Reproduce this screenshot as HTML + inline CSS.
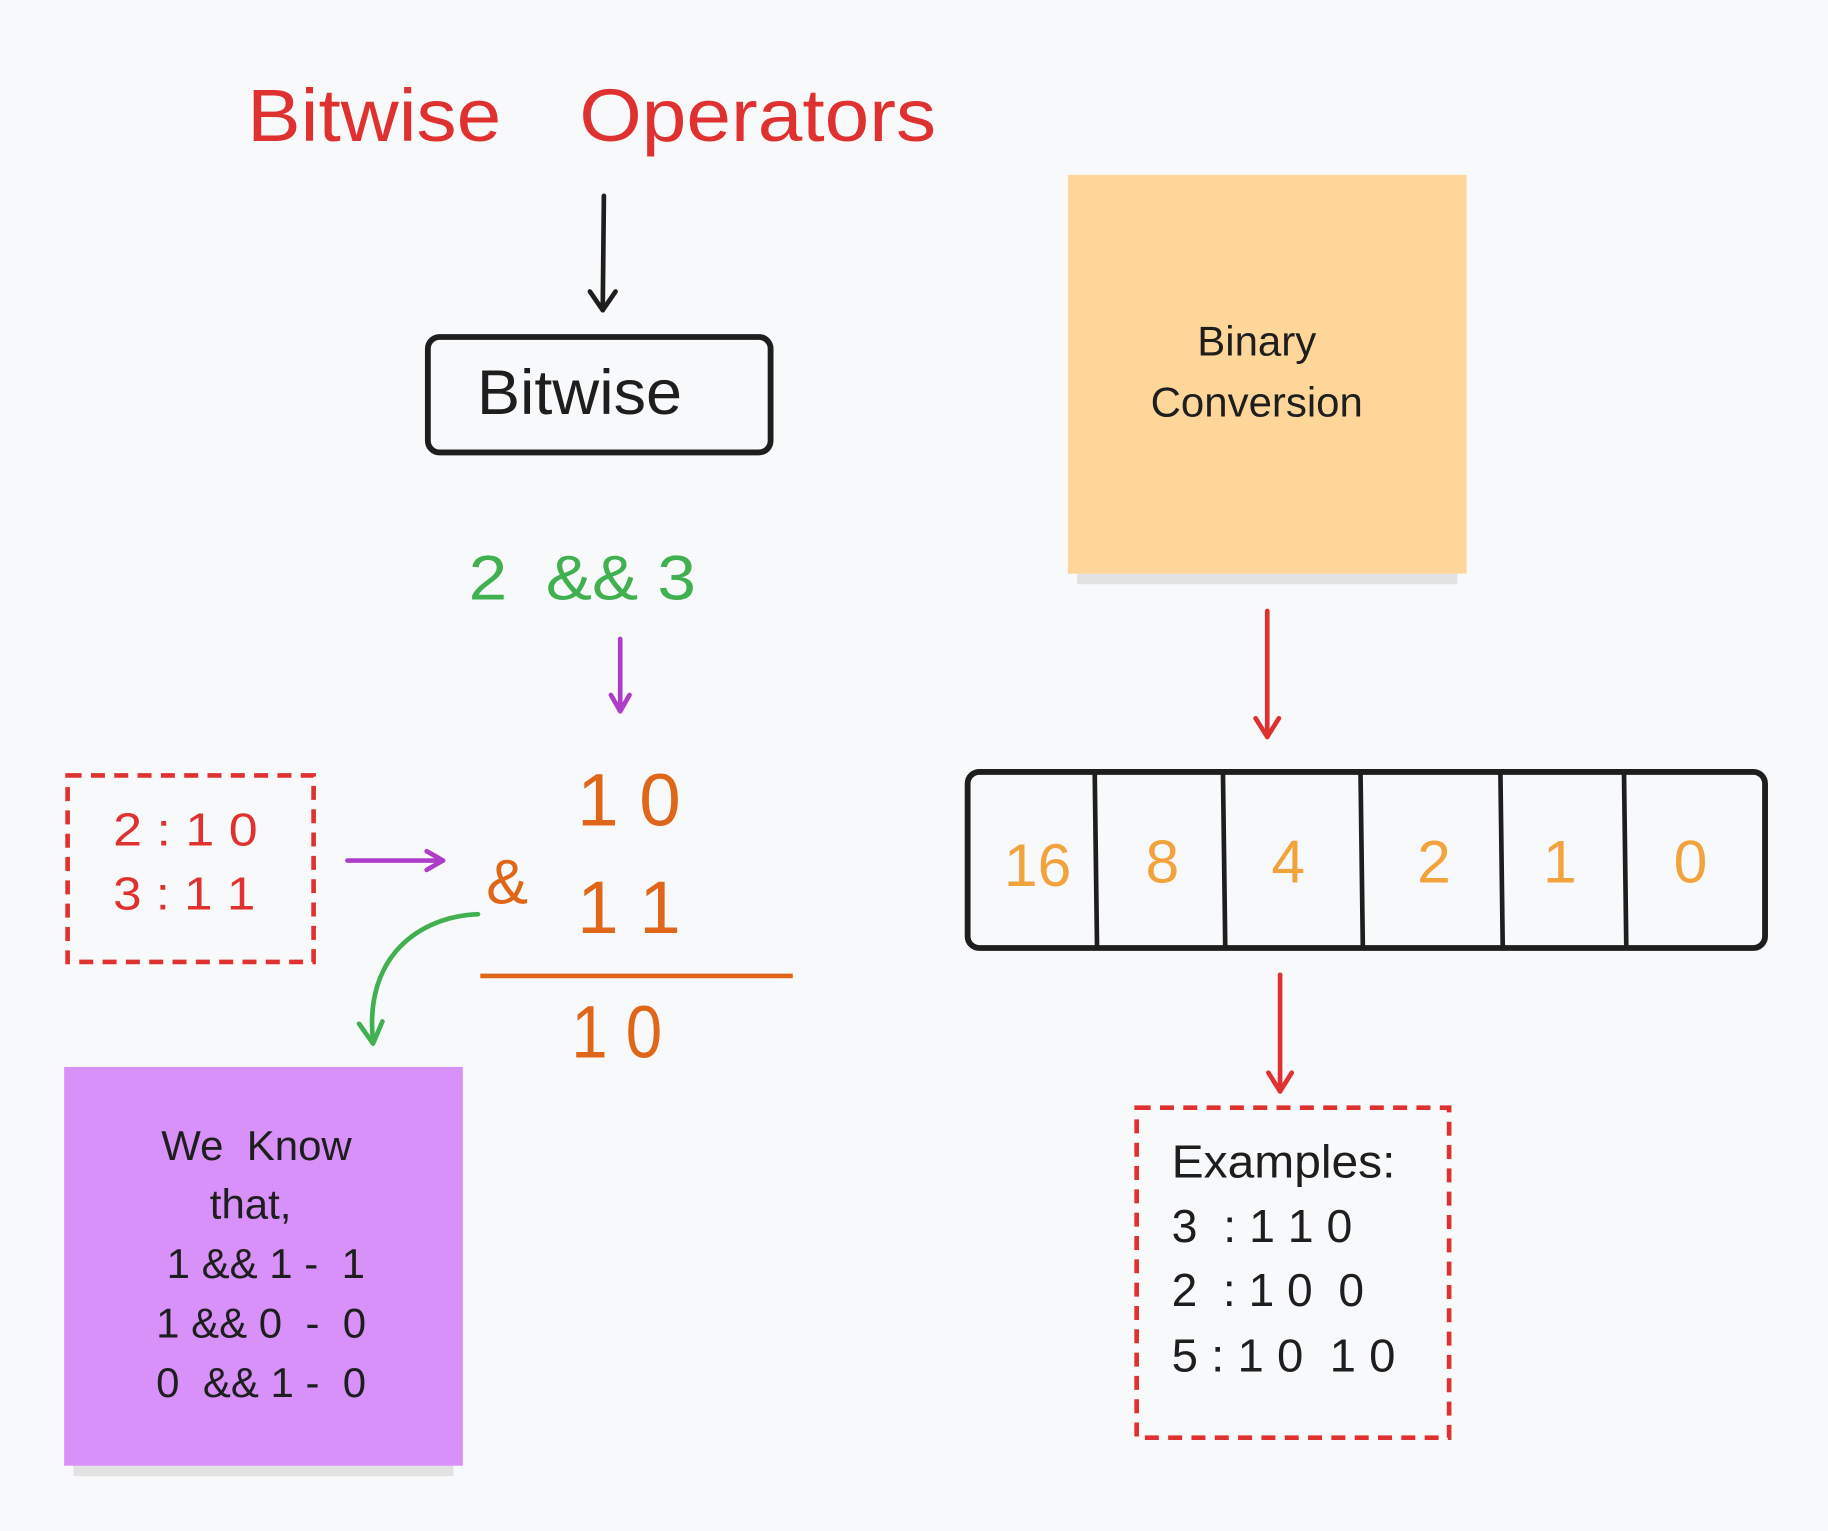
<!DOCTYPE html>
<html><head><meta charset="utf-8"><style>
html,body{margin:0;padding:0;background:#f8f9fb;}
svg{display:block;}
text{font-family:"Liberation Sans",sans-serif;}
</style></head><body>
<svg width="1828" height="1531" viewBox="0 0 1568 1313" preserveAspectRatio="none" xmlns="http://www.w3.org/2000/svg">
<rect width="1568" height="1313" fill="#f8f9fb"/>
<text x="212" y="121" font-size="64" fill="#e03131" textLength="218" lengthAdjust="spacingAndGlyphs">Bitwise</text>
<text x="497" y="121" font-size="64" fill="#e03131" textLength="306" lengthAdjust="spacingAndGlyphs">Operators</text>
<path d="M518 168 L517 266" stroke="#1e1e1e" stroke-width="4" fill="none" stroke-linecap="round"/>
<path d="M506 250 L517 266 L528 250" stroke="#1e1e1e" stroke-width="4" fill="none" stroke-linecap="round" stroke-linejoin="round"/>
<rect x="367" y="289" width="294" height="99" rx="10" fill="none" stroke="#1e1e1e" stroke-width="5"/>
<text x="409" y="355" font-size="54" fill="#1e1e1e" textLength="176" lengthAdjust="spacingAndGlyphs">Bitwise</text>
<text x="402" y="514" font-size="54" fill="#40b050" xml:space="preserve" textLength="195" lengthAdjust="spacingAndGlyphs">2  &amp;&amp; 3</text>
<path d="M532 548 L532 610" stroke="#ae3ec9" stroke-width="4" fill="none" stroke-linecap="round"/>
<path d="M524 596 L532 610 L540 596" stroke="#ae3ec9" stroke-width="4" fill="none" stroke-linecap="round" stroke-linejoin="round"/>
<text x="495" y="708" font-size="64" fill="#e0661a" xml:space="preserve">1 0</text>
<text x="495" y="800" font-size="64" fill="#e0661a" xml:space="preserve">1 1</text>
<text x="417" y="775" font-size="54" fill="#e0661a">&amp;</text>
<path d="M412 837 L680 837" stroke="#e0661a" stroke-width="4"/>
<text x="490" y="907" font-size="64" fill="#e0661a" xml:space="preserve" textLength="78" lengthAdjust="spacingAndGlyphs">1 0</text>
<rect x="58" y="665" width="211" height="160" fill="none" stroke="#e03131" stroke-width="4" stroke-dasharray="12 8"/>
<text x="97" y="725" font-size="40" fill="#e03131" xml:space="preserve" textLength="124" lengthAdjust="spacingAndGlyphs">2 : 1 0</text>
<text x="97" y="780" font-size="40" fill="#e03131" xml:space="preserve" textLength="122" lengthAdjust="spacingAndGlyphs">3 : 1 1</text>
<path d="M298 738 L380 738" stroke="#ae3ec9" stroke-width="4" fill="none" stroke-linecap="round"/>
<path d="M366 730 L380 738 L366 746" stroke="#ae3ec9" stroke-width="4" fill="none" stroke-linecap="round" stroke-linejoin="round"/>
<path d="M410 784 C360 786 312 820 320 893" stroke="#40b050" stroke-width="4" fill="none" stroke-linecap="round"/>
<path d="M308 878 L320 895 L328 876" stroke="#40b050" stroke-width="4" fill="none" stroke-linecap="round" stroke-linejoin="round"/>
<rect x="63" y="1250" width="326" height="16" fill="#e2e2e2"/>
<rect x="55" y="915" width="342" height="342" fill="#d891f8"/>
<g font-size="36" fill="#1e1e1e" text-anchor="middle">
<text x="220" y="995" xml:space="preserve">We  Know</text>
<text x="215" y="1045">that,</text>
<text x="228" y="1096" xml:space="preserve">1 &amp;&amp; 1 -  1</text>
<text x="224" y="1147" xml:space="preserve">1 &amp;&amp; 0  -  0</text>
<text x="224" y="1198" xml:space="preserve">0  &amp;&amp; 1 -  0</text>
</g>
<rect x="924" y="485" width="326" height="16" fill="#e2e2e2"/>
<rect x="916" y="150" width="342" height="342" fill="#ffd699"/>
<text x="1078" y="305" font-size="36" fill="#1e1e1e" text-anchor="middle">Binary</text>
<text x="1078" y="357" font-size="36" fill="#1e1e1e" text-anchor="middle">Conversion</text>
<path d="M1087 524 L1087 632" stroke="#e03131" stroke-width="4" fill="none" stroke-linecap="round"/>
<path d="M1077 616 L1087 632 L1097 616" stroke="#e03131" stroke-width="4" fill="none" stroke-linecap="round" stroke-linejoin="round"/>
<path d="M1098 836 L1098 936" stroke="#e03131" stroke-width="4" fill="none" stroke-linecap="round"/>
<path d="M1088 920 L1098 936 L1108 920" stroke="#e03131" stroke-width="4" fill="none" stroke-linecap="round" stroke-linejoin="round"/>
<rect x="830" y="662" width="684" height="151" rx="10" fill="none" stroke="#1e1e1e" stroke-width="5"/>
<g stroke="#1e1e1e" stroke-width="4">
<path d="M939 662 L941 813"/><path d="M1049 662 L1051 813"/><path d="M1167 662 L1169 813"/>
<path d="M1287 662 L1289 813"/><path d="M1393 662 L1395 813"/>
</g>
<g font-size="52" fill="#f2a33c" text-anchor="middle">
<text x="890" y="760">16</text><text x="997" y="757">8</text><text x="1105" y="757">4</text>
<text x="1230" y="757">2</text><text x="1338" y="757">1</text><text x="1450" y="757">0</text>
</g>
<rect x="975" y="950" width="268" height="283" fill="none" stroke="#e03131" stroke-width="4" stroke-dasharray="12 8"/>
<g font-size="40" fill="#1e1e1e">
<text x="1005" y="1010" textLength="192" lengthAdjust="spacingAndGlyphs">Examples:</text>
<text x="1005" y="1065" xml:space="preserve" textLength="155" lengthAdjust="spacingAndGlyphs">3  : 1 1 0</text>
<text x="1005" y="1120" xml:space="preserve" textLength="165" lengthAdjust="spacingAndGlyphs">2  : 1 0  0</text>
<text x="1005" y="1176" xml:space="preserve" textLength="192" lengthAdjust="spacingAndGlyphs">5 : 1 0  1 0</text>
</g>
</svg>
</body></html>
